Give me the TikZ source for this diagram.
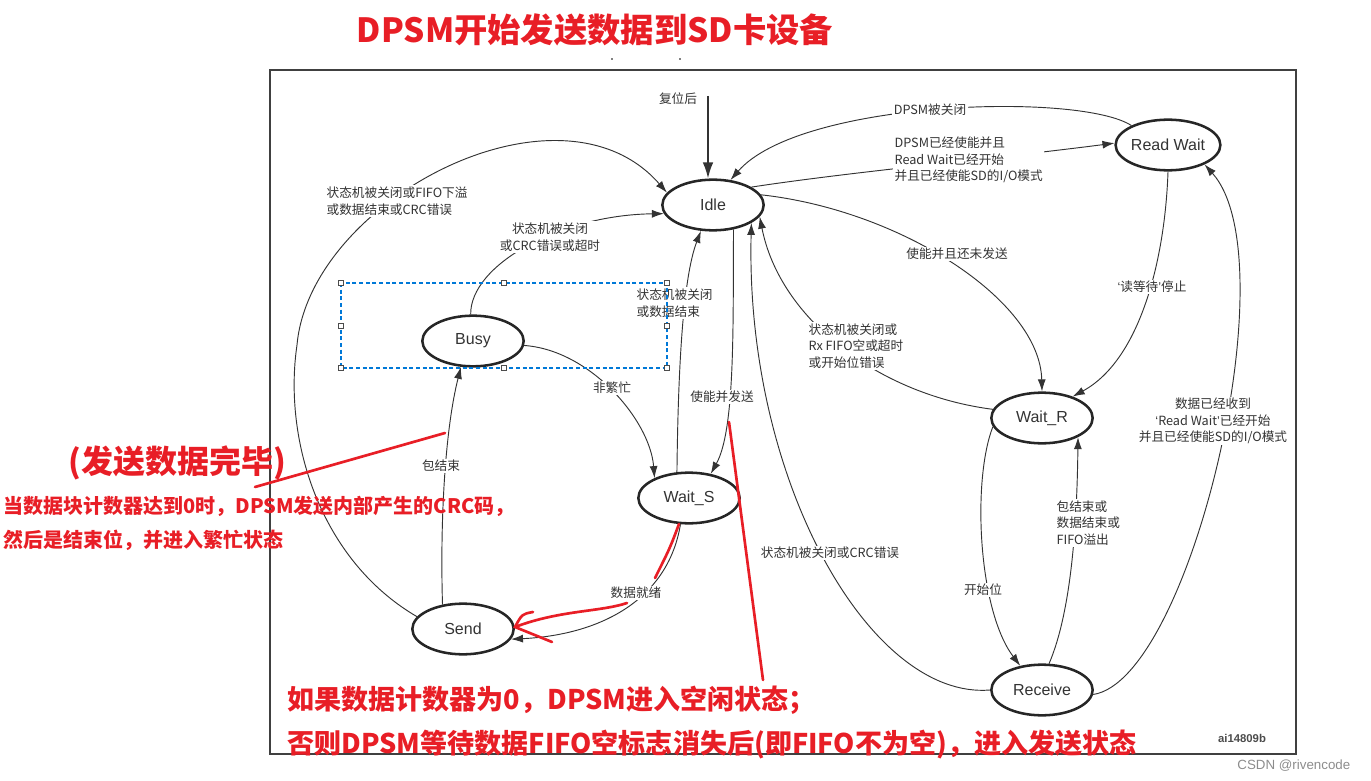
\documentclass[tikz,border=0pt]{standalone}
\usepackage{fontspec}
\setmainfont{Noto Sans CJK SC}
\newfontfamily\statefont{Liberation Sans}
\usetikzlibrary{shapes.geometric, arrows.meta}

\definecolor{annored}{RGB}{232,30,38}
\definecolor{selblue}{RGB}{0,120,215}

\tikzset{
  state/.style={ellipse, draw=black!85, line width=1.9pt, minimum width=76pt, minimum height=38pt,
    inner sep=0pt, text=black!80, font=\statefont\fontsize{12}{14}\selectfont},
  trans/.style={draw=black!80, line width=0.7pt, -{Latex[length=9pt,width=6pt]}},
  lbl/.style={fill=white, inner sep=1pt, text=black!80, font=\fontsize{9.5}{12.5}\selectfont},
  redtxt/.style={text=annored, inner sep=0pt, font=\bfseries},
  redln/.style={draw=annored, line width=2pt, line cap=round},
  handle/.style={draw=black!70, fill=white, line width=0.5pt},
}
\newcommand{\lquo}{{\statefont ‘}}
\newcommand{\rquo}{{\statefont ’}}

\begin{document}
\begin{tikzpicture}[x=0.75pt, y=-0.75pt]
          % --- 0. 畫布與外框 ---
          \useasboundingbox (0,0) rectangle (1371,781);
          \draw[black!75, line width=1.2pt] (270,70) rectangle (1296,754);
          \fill[black] (612,59) circle (0.9) (680,59) circle (0.9);

          % --- 1. 定義各狀態 ---
          \node[state] (Idle) at (713,205) {Idle};
          \node[state] (ReadWait) at (1168,145) {Read Wait};
          \node[state] (Busy) at (473,341) {Busy};
          \node[state] (WaitS) at (689,498) {Wait\_S};
          \node[state] (WaitR) at (1042,418) {Wait\_R};
          \node[state] (Send) at (463,629) {Send};
          \node[state] (Receive) at (1042,690) {Receive};
          \coordinate (rst) at (708,96);

          % --- 2. 狀態轉移 ---
          \draw[trans, line width=1.3pt, -{Latex[length=12pt,width=8pt]}] (rst) -- (rst |- Idle.north);
          \draw[trans] (ReadWait.152) .. controls (1080,92) and (800,100) .. (Idle.55);
          \draw[trans] (Idle.25) .. controls (850,172) and (1000,158) .. (ReadWait.178);
          \draw[trans] (Idle.12) .. controls (900,210) and (1040,300) .. (WaitR.north);
          \draw[trans] (ReadWait.south) .. controls (1165,260) and (1140,360) .. (WaitR.35);
          \draw[trans] (WaitR.170) .. controls (880,395) and (780,320) .. (Idle.-14);
          \draw[trans] (Receive.180) .. controls (870,700) and (745,480) .. (Idle.-25);
          \draw[trans] (WaitR.190) .. controls (972,480) and (978,610) .. (Receive.132);
          \draw[trans] (Receive.75) .. controls (1072,610) and (1077,520) .. (WaitR.-28);
          \draw[trans] (Receive.-5) .. controls (1190,680) and (1290,260) .. (ReadWait.-28);
          \draw[trans] (Idle.-50) .. controls (733,330) and (735,430) .. (WaitS.48);
          \draw[trans] (WaitS.115) .. controls (678,380) and (682,280) .. (Idle.-115);
          \draw[trans] (Busy.-5) .. controls (590,350) and (650,420) .. (WaitS.150);
          \draw[trans] (Busy.95) .. controls (470,265) and (560,215) .. (Idle.190);
          \draw[trans] (Send.130) .. controls (440,520) and (445,430) .. (Busy.-115);
          \draw[trans] (Send.165) .. controls (320,560) and (283,440) .. (297,345)
                       .. controls (310,200) and (560,70) .. (Idle.165);
          \draw[trans] (WaitS.-108) .. controls (668,600) and (600,635) .. (Send.-12);

          % --- 3. 轉移條件標籤 ---
          \node[lbl] (lReset) at (678,99) {复位后};
          \node[lbl] (lOff) at (930,110) {DPSM被关闭};
          \node[lbl, anchor=west, align=left] (lToRW) at (893,160)
               {DPSM已经使能并且\\Read Wait已经开始\\并且已经使能SD的I/O模式};
          \node[lbl] (lEnRx) at (957,254) {使能并且还未发送};
          \node[lbl] (lStop) at (1152,287) {\lquo 读等待\rquo 停止};
          \node[lbl, anchor=west, align=left] (lWRIdle) at (807,346)
               {状态机被关闭或\\Rx FIFO空或超时\\或开始位错误};
          \node[lbl] (lRcvIdle) at (830,553) {状态机被关闭或CRC错误};
          \node[lbl] (lStart) at (983,590) {开始位};
          \node[lbl, anchor=west, align=left] (lPkt) at (1055,523)
               {包结束或\\数据结束或\\FIFO溢出};
          \node[lbl, align=center] (lData) at (1213,421)
               {数据已经收到\\\lquo Read Wait\rquo 已经开始\\并且已经使能SD的I/O模式};
          \node[lbl] (lEnTx) at (722,397) {使能并发送};
          \node[lbl, anchor=west, align=left] (lSOff) at (635,303) {状态机被关闭\\或数据结束};
          \node[lbl] (lNotBusy) at (612,388) {非繁忙};
          \node[lbl, align=center] (lBusyIdle) at (550,237) {状态机被关闭\\或CRC错误或超时};
          \node[lbl] (lPktEnd) at (441,466) {包结束};
          \node[lbl, anchor=west, align=left] (lSendIdle) at (325,201)
               {状态机被关闭或FIFO下溢\\或数据结束或CRC错误};
          \node[lbl] (lReady) at (636,593) {数据就绪};
          \node[text=black!70, font=\statefont\bfseries\fontsize{8.5}{10}\selectfont] (fig) at (1242,738) {ai14809b};
          \node[text=black!45, anchor=east, font=\statefont\fontsize{10}{12}\selectfont] (csdn) at (1355,766) {CSDN @rivencode};

          % --- 4. 選取框 ---
          \draw[selblue, line width=0.8pt, dash pattern=on 3pt off 2pt] (341,283) rectangle (667,368);
          \foreach \hx/\hy in {341/283, 504/283, 667/283, 341/326, 667/326, 341/368, 504/368, 667/368}
            \draw[handle] (\hx-2.5,\hy-2.5) rectangle (\hx+2.5,\hy+2.5);

          % --- 5. 紅色註記 ---
          \node[redtxt, font=\bfseries\fontsize{25}{30}\selectfont] (title) at (595,30) {DPSM开始发送数据到SD卡设备};
          \node[redtxt, font=\bfseries\fontsize{24}{28}\selectfont] (done) at (177,463) {(发送数据完毕)};
          \node[redtxt, anchor=west, font=\bfseries\fontsize{15}{18}\selectfont] (note1) at (3,506)
               {当数据块计数器达到0时，DPSM发送内部产生的CRC码，};
          \node[redtxt, anchor=west, font=\bfseries\fontsize{15}{18}\selectfont] (note2) at (3,540)
               {然后是结束位，并进入繁忙状态};
          \node[redtxt, anchor=west, font=\bfseries\fontsize{20.3}{24}\selectfont] (zero) at (287,700)
               {如果数据计数器为0，DPSM进入空闲状态；};
          \node[redtxt, anchor=west, font=\bfseries\fontsize{20.3}{24}\selectfont] (other) at (287,745)
               {否则DPSM等待数据FIFO空标志消失后(即FIFO不为空)，进入发送状态};

          \draw[redln] (255,487) -- (445,433);
          \draw[redln] (729,422) -- (763,680);
          \draw[redln] (679,524) .. controls (670,548) .. (655,578);
          \draw[redln] (627,603) .. controls (600,612) and (560,610) .. (515,627);
          \draw[redln] (533,612) .. controls (522,614) .. (515,627) -- (552,642);

      \end{tikzpicture}
\end{document}
